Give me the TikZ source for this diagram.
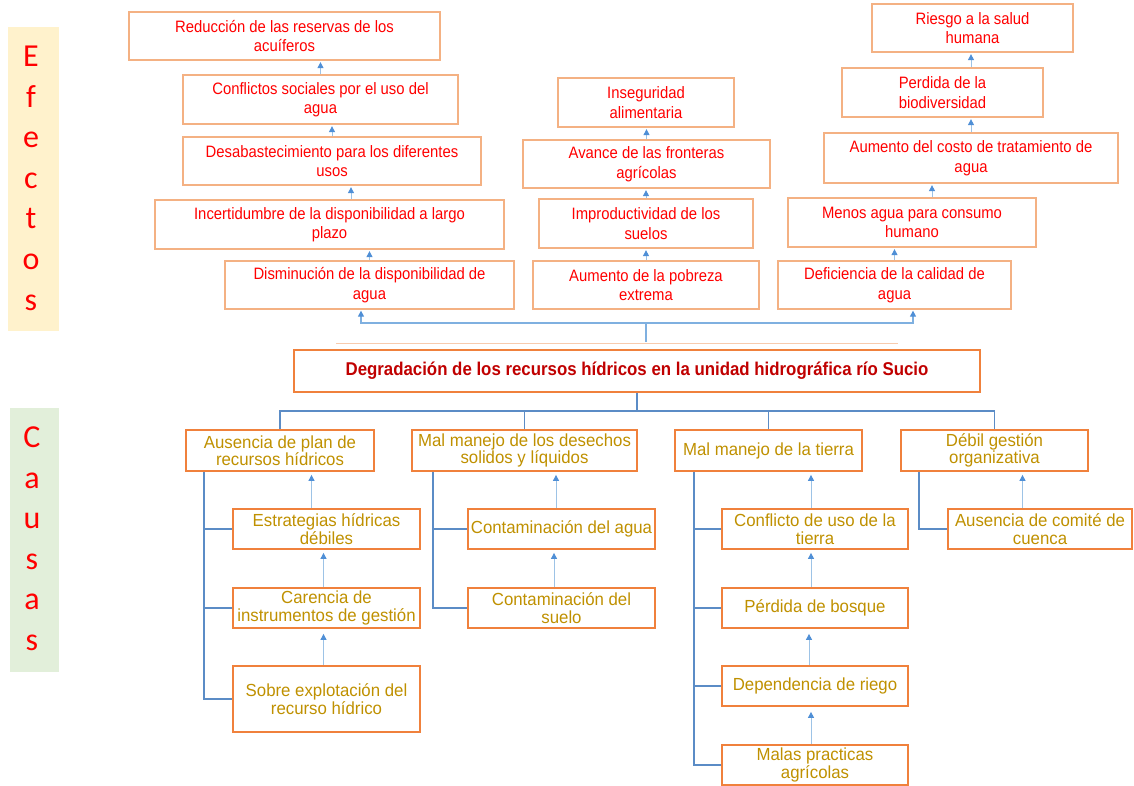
\documentclass[tikz,border=0pt]{standalone}
\usepackage{fontspec}
\setmainfont{Liberation Sans}
\newfontfamily\sidefont{Carlito}
\newfontfamily\efffont[FakeStretch=0.9]{Liberation Sans}
\newfontfamily\causefont[FakeStretch=0.96]{Liberation Sans}
\newfontfamily\titlefont[FakeStretch=0.91]{Liberation Sans}
\usetikzlibrary{arrows.meta}
\definecolor{effred}{HTML}{FF0000}
\definecolor{effedge}{HTML}{F4B183}
\definecolor{cauedge}{HTML}{F0813C}
\definecolor{caugold}{HTML}{BF9000}
\definecolor{titlered}{HTML}{C00000}
\definecolor{arrowshaft}{HTML}{9DC3E6}
\definecolor{arrowtip}{HTML}{4F8FD6}
\definecolor{treeblue}{HTML}{5B8CC6}
\definecolor{linkblue}{HTML}{7FB0E0}
\definecolor{efbg}{HTML}{FFF2CC}
\definecolor{cabg}{HTML}{E2EFDA}
\definecolor{seam}{HTML}{F8CBAD}

\begin{document}
\begin{tikzpicture}[x=1pt,y=-1pt,
  sz/.style 2 args={minimum width=#1pt, minimum height=#2pt},
  effbox/.style={draw=effedge, line width=1.3pt, text=effred, align=center, inner sep=0pt,
    font=\efffont\fontsize{16.5}{19.5}\selectfont},
  causebox/.style={draw=cauedge, line width=1.8pt, text=caugold, align=center, inner sep=0pt,
    font=\causefont\fontsize{17.5}{17.5}\selectfont},
  titlebox/.style={draw=cauedge, line width=1.8pt, text=titlered, align=center, inner sep=0pt,
    font=\titlefont\bfseries\fontsize{18.5}{20}\selectfont},
  sideletter/.style={anchor=base, text=effred, inner sep=0pt, font=\sidefont\fontsize{32}{32}\selectfont},
  uparrow/.style={draw=arrowshaft, line width=1pt,
    -{Triangle[length=6pt,width=6pt,color=arrowtip]}, shorten >=1.5pt},
  treeline/.style={draw=treeblue, line width=1.9pt},
  linkline/.style={draw=linkblue, line width=1.3pt},
  linkarrow/.style={linkline, -{Triangle[length=6pt,width=6pt,color=arrowtip]}, shorten >=1pt},
]
\useasboundingbox (0,0) rectangle (1134,786);

% side labels
\node[fill=efbg, inner sep=0pt, sz={51}{304}] (efbg) at (33.5,179) {};
\node[fill=cabg, inner sep=0pt, sz={49}{264}] (cabg) at (34.5,540) {};
\foreach \ch/\yy [count=\i] in {E/67,f/107.5,e/148,c/188.5,t/229,o/269.5,s/310}
  \node[sideletter] (efl\i) at (31,\yy) {\ch};
\foreach \ch/\yy [count=\i] in {C/447.5,a/488,u/528.5,s/569,a/609.5,s/650}
  \node[sideletter] (cal\i) at (32,\yy) {\ch};

% effects, left column
\node[effbox, sz={311}{48}] (e1) at (284.5,36) {Reducción de las reservas de los\\acuíferos};
\node[effbox, sz={275}{49}] (e2) at (320.5,99.5) {Conflictos sociales por el uso del\\agua};
\node[effbox, sz={298}{48}] (e3) at (332,161) {Desabastecimiento para los diferentes\\usos};
\node[effbox, sz={349}{49}] (e4) at (329.5,224.5) {Incertidumbre de la disponibilidad a largo\\plazo};
\node[effbox, sz={289}{48}] (e5) at (369.5,285) {Disminución de la disponibilidad de\\agua};

% effects, middle column
\node[effbox, sz={176}{49}] (m1) at (646,102.5) {Inseguridad\\alimentaria};
\node[effbox, sz={247}{48}] (m2) at (646.5,164) {Avance de las fronteras\\agrícolas};
\node[effbox, sz={214}{49}] (m3) at (646,223.5) {Improductividad de los\\suelos};
\node[effbox, sz={226}{48}] (m4) at (646,285) {Aumento de la pobreza\\extrema};

% effects, right column
\node[effbox, sz={201}{48}] (r1) at (972.5,28) {Riesgo a la salud\\humana};
\node[effbox, sz={201}{49}] (r2) at (942.5,92.5) {Perdida de la\\biodiversidad};
\node[effbox, sz={294}{50}] (r3) at (971,158) {Aumento del costo de tratamiento de\\agua};
\node[effbox, sz={248}{49}] (r4) at (912,222.5) {Menos agua para consumo\\humano};
\node[effbox, sz={233}{48}] (r5) at (894.5,285) {Deficiencia de la calidad de\\agua};

% central problem
\draw[seam, line width=0.8pt] (336,343) -- (898,343);
\node[titlebox, sz={686}{42}] (title) at (637,371)
  {Degradación de los recursos hídricos en la unidad hidrográfica río Sucio};

% causes, heads
\node[causebox, sz={188}{41}] (ca) at (280,450.5) {Ausencia de plan de\\recursos hídricos};
\node[causebox, sz={225}{41}] (cb) at (524.5,450.5) {Mal manejo de los desechos\\solidos y líquidos};
\node[causebox, sz={187}{41}] (cc) at (768.5,450.5) {Mal manejo de la tierra};
\node[causebox, sz={187}{41}] (cd) at (994.5,450.5) {Débil gestión\\organizativa};

% causes, sub-items
\node[causebox, sz={187}{40}] (a1) at (326.5,529) {Estrategias hídricas\\débiles};
\node[causebox, sz={187}{40}] (a2) at (326.5,608) {Carencia de\\instrumentos de gestión};
\node[causebox, sz={187}{66}] (a3) at (326.5,699) {Sobre explotación del\\recurso hídrico};
\node[causebox, sz={187}{40}] (b1) at (561.5,529) {Contaminación del agua};
\node[causebox, sz={187}{40}] (b2) at (561.5,608) {Contaminación del\\suelo};
\node[causebox, sz={186}{40}] (c1) at (815,529) {Conflicto de uso de la\\tierra};
\node[causebox, sz={186}{40}] (c2) at (815,608) {Pérdida de bosque};
\node[causebox, sz={186}{40}] (c3) at (815,686) {Dependencia de riego};
\node[causebox, sz={186}{40}] (c4) at (815,765) {Malas practicas\\agrícolas};
\node[causebox, sz={184}{40}] (d1) at (1040,529) {Ausencia de comité de\\cuenca};

% effect chains
\draw[uparrow] (e5.north) -- (e5.north |- e4.south);
\draw[uparrow] ([xshift=21.5pt]e4.north) -- ([xshift=21.5pt]e4.north |- e3.south);
\draw[uparrow] (e3.north) -- (e3.north |- e2.south);
\draw[uparrow] (e2.north) -- (e2.north |- e1.south);
\draw[uparrow] (m4.north) -- (m4.north |- m3.south);
\draw[uparrow] (m3.north) -- (m3.north |- m2.south);
\draw[uparrow] (m2.north) -- (m2.north |- m1.south);
\draw[uparrow] (r5.north) -- (r5.north |- r4.south);
\draw[uparrow] ([xshift=20pt]r4.north) -- ([xshift=20pt]r4.north |- r3.south);
\draw[uparrow] (r3.north) -- (r3.north |- r2.south);
\draw[uparrow] ([xshift=28.5pt]r2.north) -- ([xshift=28.5pt]r2.north |- r1.south);

% link from the problem up to the effects
\coordinate (fork) at (646,323);
\draw[linkline] ([yshift=7pt]title.north -| fork) -- (fork);
\draw[linkarrow] (fork) -| ([xshift=-8.5pt]e5.south);
\draw[linkarrow] (fork) -| ([xshift=18.5pt]r5.south);

% tree from the problem down to the causes
\coordinate (hub) at (637,411);
\draw[treeline] (title.south) -- (hub);
\draw[treeline] (ca.north) -- (ca.north |- hub) -- (cd.north |- hub) -- (cd.north);
\draw[treeline] (cb.north) -- (cb.north |- hub);
\draw[treeline] (cc.north) -- (cc.north |- hub);

% brackets joining each head to its sub-items
\draw[treeline] ([xshift=19pt]ca.south west) |- (a3.west);
\draw[treeline] ([xshift=19pt]ca.south west |- a1.west) -- (a1.west);
\draw[treeline] ([xshift=19pt]ca.south west |- a2.west) -- (a2.west);
\draw[treeline] ([xshift=22pt]cb.south west) |- (b2.west);
\draw[treeline] ([xshift=22pt]cb.south west |- b1.west) -- (b1.west);
\draw[treeline] ([xshift=20pt]cc.south west) |- (c4.west);
\draw[treeline] ([xshift=20pt]cc.south west |- c1.west) -- (c1.west);
\draw[treeline] ([xshift=20pt]cc.south west |- c2.west) -- (c2.west);
\draw[treeline] ([xshift=20pt]cc.south west |- c3.west) -- (c3.west);
\draw[treeline] ([xshift=19pt]cd.south west) |- (d1.west);

% cause chains
\draw[uparrow, shorten >=3pt] ([xshift=-15pt]a1.north) -- ([xshift=-15pt]a1.north |- ca.south);
\draw[uparrow, shorten >=3pt] ([xshift=-3pt]a2.north) -- ([xshift=-3pt]a2.north |- a1.south);
\draw[uparrow, shorten >=5pt] ([xshift=-3pt]a3.north) -- ([xshift=-3pt]a3.north |- a2.south);
\draw[uparrow, shorten >=3pt] ([xshift=-5.5pt]b1.north) -- ([xshift=-5.5pt]b1.north |- cb.south);
\draw[uparrow, shorten >=3pt] ([xshift=-7.5pt]b2.north) -- ([xshift=-7.5pt]b2.north |- b1.south);
\draw[uparrow, shorten >=3pt] ([xshift=-4pt]c1.north) -- ([xshift=-4pt]c1.north |- cc.south);
\draw[uparrow, shorten >=3pt] ([xshift=-4pt]c2.north) -- ([xshift=-4pt]c2.north |- c1.south);
\draw[uparrow, shorten >=5pt] ([xshift=-6pt]c3.north) -- ([xshift=-6pt]c3.north |- c2.south);
\draw[uparrow, shorten >=5pt] ([xshift=-4pt]c4.north) -- ([xshift=-4pt]c4.north |- c3.south);
\draw[uparrow, shorten >=3pt] ([xshift=-17.5pt]d1.north) -- ([xshift=-17.5pt]d1.north |- cd.south);
\end{tikzpicture}
\end{document}
